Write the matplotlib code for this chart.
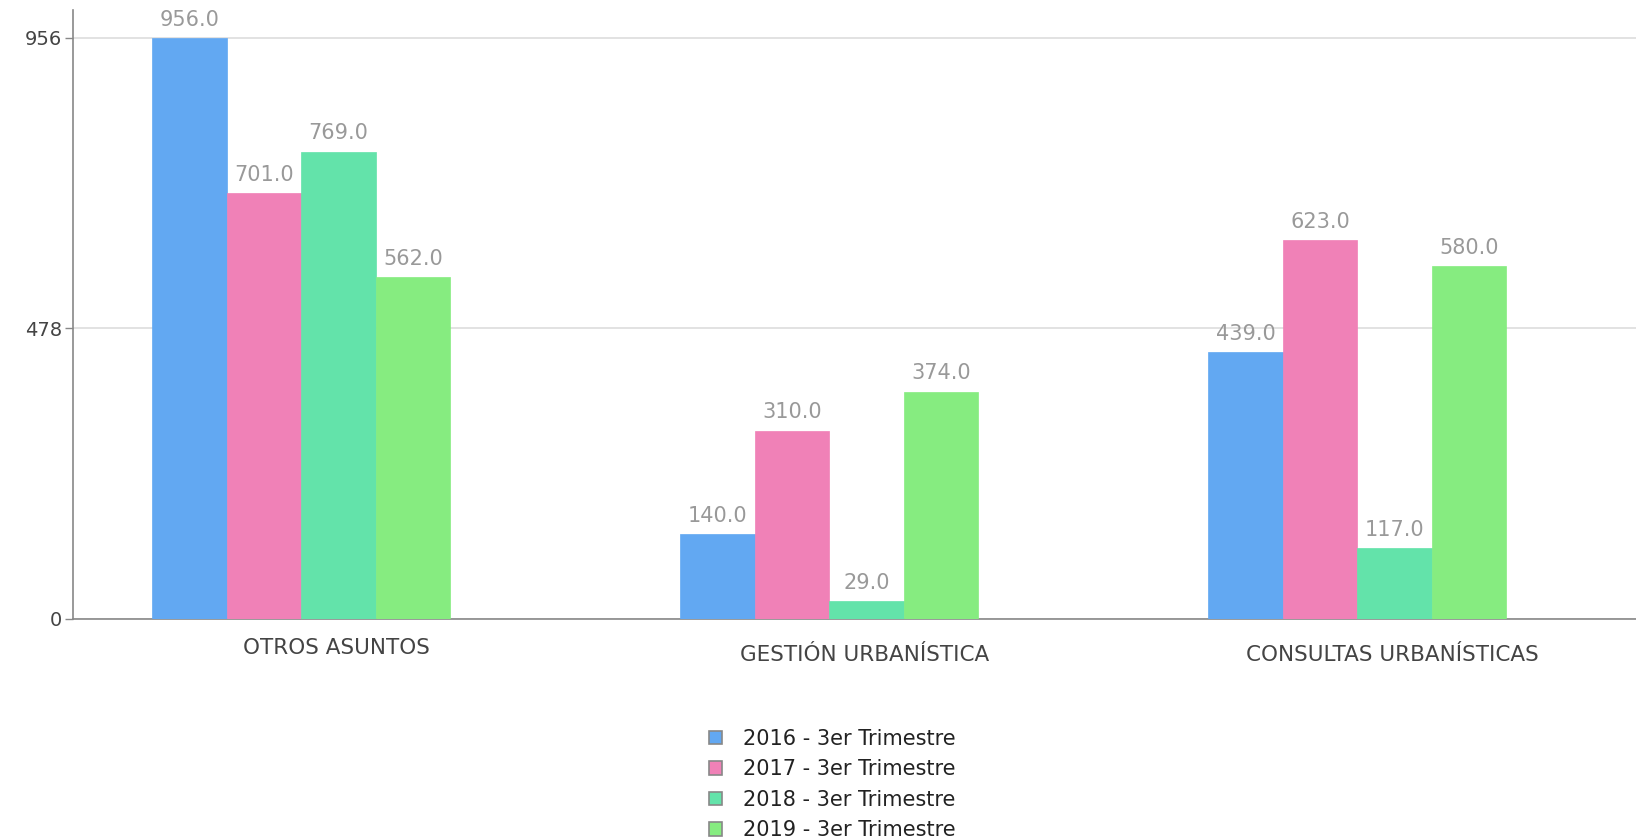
import matplotlib
matplotlib.use("Agg")
import matplotlib.pyplot as plt
import matplotlib.transforms as mtransforms
import numpy as np

categories = ["OTROS ASUNTOS", "GESTIÓN URBANÍSTICA", "CONSULTAS URBANÍSTICAS"]
series_names = ["2016 - 3er Trimestre", "2017 - 3er Trimestre",
                "2018 - 3er Trimestre", "2019 - 3er Trimestre"]
values_2016 = [956.0, 140.0, 439.0]
values_2017 = [701.0, 310.0, 623.0]
values_2018 = [769.0, 29.0, 117.0]
values_2019 = [562.0, 374.0, 580.0]
y_ticks = [0, 478, 956]

series = [values_2016, values_2017, values_2018, values_2019]
colors = ["#62A8F2", "#F081B7", "#63E3AA", "#86EC80"]

fig = plt.figure(figsize=(16.36, 8.40), dpi=100)
ax = fig.add_axes([73 / 1636, 1 - 619 / 840, 1 - 73 / 1636, (619 - 10) / 840])

x = np.arange(len(categories))
bw = 0.141
for i, (vals, c, name) in enumerate(zip(series, colors, series_names)):
    pos = x + (i - 1.5) * bw
    bars = ax.bar(pos, vals, width=bw, color=c, label=name, zorder=3,
                  edgecolor=c, linewidth=0.5)
    for b, v in zip(bars, vals):
        ax.annotate(f"{v:.1f}", (b.get_x() + b.get_width() / 2, v),
                    xytext=(0, 6), textcoords="offset points",
                    ha="center", va="bottom", color="#999999", fontsize=15)

ax.set_xlim(-0.432, 2.528)
ax.set_ylim(0, 1002)
ax.set_yticks(y_ticks)
ax.set_yticklabels([str(t) for t in y_ticks])
ax.yaxis.grid(True, color="#DDDDDD", linewidth=1.2, zorder=0)
ax.set_axisbelow(True)
ax.set_xticks(x)
ax.set_xticklabels(categories)
ax.tick_params(axis="x", length=0, pad=14, labelsize=15.5, labelcolor="#444444")
ax.tick_params(axis="y", length=6, width=1, color="#888888", labelsize=14,
               labelcolor="#444444", pad=2)
for lbl in ax.get_xticklabels():
    dy = -7 if any(ch in lbl.get_text() for ch in "ÁÉÍÓÚ") else 0
    lbl.set_transform(lbl.get_transform() +
                      mtransforms.ScaledTranslation(35 / 100, dy / 100, fig.dpi_scale_trans))
for s in ["top", "right"]:
    ax.spines[s].set_visible(False)
ax.spines["left"].set_color("#888888")
ax.spines["bottom"].set_color("#888888")
ax.spines["left"].set_linewidth(1.2)
ax.spines["bottom"].set_linewidth(1.2)

leg = fig.legend(loc="upper left", bbox_to_anchor=(709 / 1636, 1 - 729 / 840),
                 ncol=1, frameon=False, fontsize=15, handlelength=0.62,
                 handleheight=0.62, handletextpad=1.0, labelspacing=0.5,
                 borderpad=0, borderaxespad=0)
for h in leg.legend_handles:
    h.set_edgecolor("#888888")
    h.set_linewidth(1.2)
for t in leg.get_texts():
    t.set_color("#222222")

fig.savefig("out.png", dpi=100)
